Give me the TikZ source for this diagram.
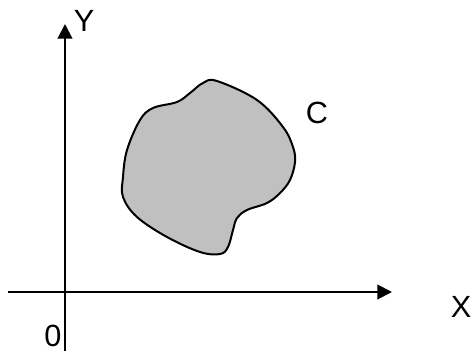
\documentclass[tikz,border=0pt]{standalone}
\usepackage{fontspec}
\setmainfont{Liberation Sans}
\usetikzlibrary{arrows.meta}
\definecolor{region}{HTML}{C0C0C0}

\begin{document}
\begin{tikzpicture}[
  x=0.75pt, y=-0.75pt,
  every node/.style={font=\fontsize{23}{27}\selectfont, inner sep=0pt},
  axis/.style={line width=1.5pt, -{Triangle[length=11pt,width=11pt]}},
  blob/.style={line width=1.5pt, fill=region, line join=round},
]
  \useasboundingbox (0,0) rectangle (475,351);

  % axes
  \coordinate (xstart) at (8,292);
  \coordinate (xend)   at (392,292);
  \coordinate (ystart) at (65,351);
  \coordinate (yend)   at (65,24);
  \draw[axis] (xstart) -- (xend);
  \draw[axis] (ystart) -- (yend);

  \node (ylab) at (84,21)  {Y};
  \node (xlab) at (461,307) {X};
  \node (olab) at (53,336) {0};

  % the region C
  \draw[blob] plot[smooth cycle, tension=0.6] coordinates {
    (217,81) (257,100) (283,127) (293,147) (295,162) (290,180)
    (280,193) (267,203) (247,210) (237,218) (233,230) (228,247)
    (220,254) (200,252) (167,237) (137,217) (123,197) (123,177)
    (127,150) (140,120) (153,108) (177,102) (190,93) (203,83)};
  \node (clab) at (317,113) {C};
\end{tikzpicture}
\end{document}
